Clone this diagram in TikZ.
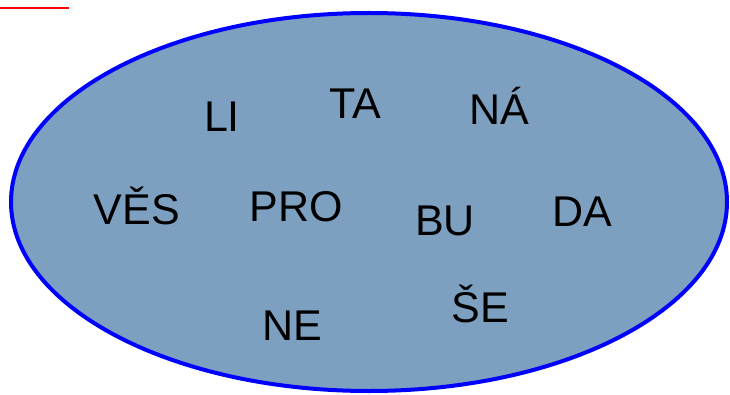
\documentclass[tikz,border=0pt]{standalone}
\usepackage{fontspec}
\setmainfont{Liberation Sans}
\usetikzlibrary{shapes.geometric}
\definecolor{fillblue}{RGB}{125,159,192}
\definecolor{edgeblue}{RGB}{0,0,255}
\begin{document}
\begin{tikzpicture}[x=1pt,y=1pt,
  syl/.style={anchor=base,inner sep=0pt,font=\fontsize{43}{50}\selectfont,text=black}]
\useasboundingbox (0,0) rectangle (730,394);
\coordinate (r1) at (0,385.5);
\coordinate (r2) at (69,385.5);
\draw[red,line width=2pt] (r1) -- (r2);
\node[ellipse,draw=edgeblue,fill=fillblue,line width=4pt,minimum width=716pt,minimum height=378pt,inner sep=0pt] (oval) at (369,192) {};
\node[syl] (li) at (222,262.3) {LI};
\node[syl] (ta) at (355,275.7) {TA};
\node[syl] (na) at (499,269) {NÁ};
\node[syl] (ves) at (137,170) {VĚS};
\node[syl] (pro) at (296,172.3) {PRO};
\node[syl] (bu) at (445,159) {BU};
\node[syl] (da) at (582,168) {DA};
\node[syl] (se) at (480,71.3) {ŠE};
\node[syl] (ne) at (292.5,53.3) {NE};
\end{tikzpicture}
\end{document}
